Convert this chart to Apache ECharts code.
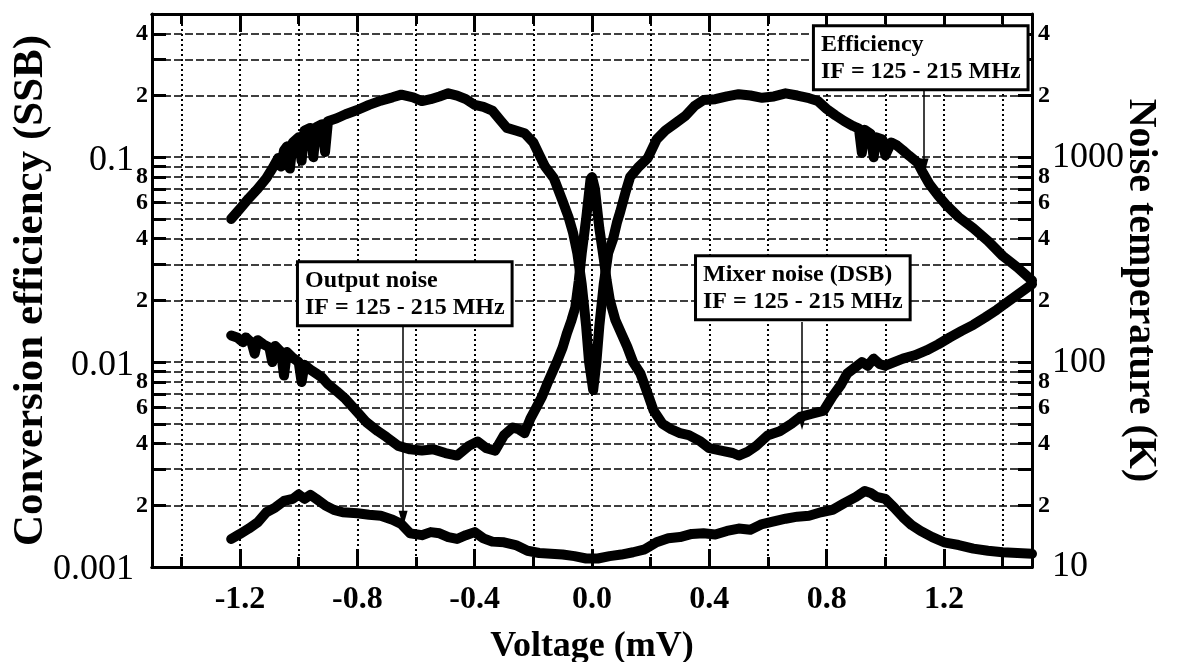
<!DOCTYPE html>
<html>
<head>
<meta charset="utf-8">
<script src="https://cdn.jsdelivr.net/npm/echarts@6/dist/echarts.min.js"></script>
<style>
  html, body { margin: 0; padding: 0; background: #fff; }
  #chart { width: 1178px; height: 662px; }
</style>
</head>
<body>
<div id="chart"></div>
<script>
// tick positions
const xLabelTicks = [-1.2, -0.8, -0.4, 0.0, 0.4, 0.8, 1.2];
const xMinorTicks = [-1.4, -1.0, -0.6, -0.2, 0.2, 0.6, 1.0, 1.4];
const effDecades = [-3, -2, -1];      // 0.001, 0.01, 0.1
const noiseDecades = [1, 2, 3];       // 10, 100, 1000 K
const tickMantissas = [1, 2, 3, 4, 5, 6, 7, 8, 9];
const labelMantissas = [1, 2, 4, 6, 8];

// [voltage (mV), conversion efficiency]
const efficiency = [
  [-1.23, 0.050], [-1.20, 0.056], [-1.17, 0.063], [-1.14, 0.070], [-1.11, 0.079],
  [-1.09, 0.088], [-1.07, 0.099], [-1.06, 0.090], [-1.05, 0.108], [-1.04, 0.113],
  [-1.03, 0.088], [-1.02, 0.118], [-1.00, 0.125], [-0.99, 0.096], [-0.98, 0.135],
  [-0.96, 0.139], [-0.95, 0.100], [-0.94, 0.140], [-0.92, 0.145], [-0.91, 0.106],
  [-0.90, 0.150], [-0.87, 0.155], [-0.84, 0.162], [-0.80, 0.170], [-0.76, 0.180],
  [-0.72, 0.189], [-0.68, 0.196], [-0.65, 0.202], [-0.61, 0.196], [-0.58, 0.188],
  [-0.55, 0.192], [-0.52, 0.198], [-0.49, 0.205], [-0.46, 0.200], [-0.43, 0.192],
  [-0.40, 0.180], [-0.37, 0.176], [-0.34, 0.169], [-0.31, 0.150], [-0.29, 0.139],
  [-0.26, 0.135], [-0.23, 0.131], [-0.20, 0.118], [-0.18, 0.103], [-0.16, 0.090],
  [-0.13, 0.079], [-0.10, 0.061], [-0.08, 0.051], [-0.065, 0.043], [-0.05, 0.034],
  [-0.035, 0.024], [-0.02, 0.015], [-0.01, 0.010], [0.004, 0.0073], [0.015, 0.010],
  [0.025, 0.015], [0.04, 0.024], [0.055, 0.034], [0.072, 0.040], [0.085, 0.048],
  [0.096, 0.054], [0.115, 0.068], [0.13, 0.080], [0.16, 0.090], [0.19, 0.099],
  [0.22, 0.122], [0.25, 0.135], [0.28, 0.145], [0.32, 0.160], [0.35, 0.178],
  [0.38, 0.190], [0.42, 0.192], [0.46, 0.198], [0.50, 0.203], [0.54, 0.200],
  [0.58, 0.195], [0.62, 0.198], [0.66, 0.205], [0.70, 0.200], [0.74, 0.194],
  [0.77, 0.188], [0.80, 0.172], [0.83, 0.160], [0.86, 0.150], [0.89, 0.142],
  [0.91, 0.138], [0.92, 0.105], [0.93, 0.136], [0.95, 0.130], [0.96, 0.100],
  [0.97, 0.125], [0.99, 0.122], [1.00, 0.102], [1.02, 0.118], [1.04, 0.114],
  [1.06, 0.108], [1.08, 0.102], [1.11, 0.094], [1.13, 0.083], [1.15, 0.074],
  [1.18, 0.065], [1.21, 0.058], [1.25, 0.051], [1.30, 0.045], [1.35, 0.039],
  [1.40, 0.033], [1.45, 0.029], [1.50, 0.025]
];

// [voltage (mV), mixer noise DSB (K)]
const mixerNoise = [
  [-1.23, 135], [-1.21, 132], [-1.19, 125], [-1.18, 132], [-1.16, 124],
  [-1.15, 110], [-1.14, 128], [-1.12, 122], [-1.10, 118], [-1.09, 100],
  [-1.08, 120], [-1.06, 112], [-1.05, 86], [-1.04, 112], [-1.02, 105],
  [-1.00, 100], [-0.99, 80], [-0.98, 97], [-0.96, 92], [-0.94, 88],
  [-0.92, 84], [-0.90, 78], [-0.87, 72], [-0.84, 66], [-0.80, 57],
  [-0.77, 51], [-0.73, 46], [-0.70, 43], [-0.66, 39], [-0.62, 37.5],
  [-0.58, 37], [-0.54, 37.5], [-0.50, 36], [-0.46, 35], [-0.42, 39],
  [-0.39, 41], [-0.36, 38], [-0.33, 37], [-0.30, 44], [-0.27, 48],
  [-0.25, 47], [-0.23, 45], [-0.21, 53], [-0.19, 60], [-0.17, 68],
  [-0.15, 80], [-0.12, 100], [-0.10, 118], [-0.085, 139], [-0.07, 160],
  [-0.057, 185], [-0.045, 250], [-0.035, 340], [-0.02, 500], [-0.005, 780],
  [0.0, 800], [0.01, 700], [0.025, 450], [0.04, 320], [0.05, 250],
  [0.061, 200], [0.08, 160], [0.10, 138], [0.12, 119], [0.14, 100],
  [0.165, 88], [0.19, 70], [0.21, 58], [0.24, 50], [0.27, 47],
  [0.30, 45], [0.33, 44], [0.37, 41], [0.40, 38], [0.44, 37],
  [0.48, 36], [0.50, 35], [0.53, 36.5], [0.56, 39], [0.60, 44],
  [0.64, 46], [0.68, 50], [0.71, 54], [0.75, 56], [0.79, 58],
  [0.82, 68], [0.85, 78], [0.87, 88], [0.90, 95], [0.92, 100],
  [0.94, 96], [0.96, 104], [0.98, 98], [1.00, 96], [1.03, 100],
  [1.06, 104], [1.10, 108], [1.14, 114], [1.18, 122], [1.22, 132],
  [1.26, 142], [1.30, 152], [1.34, 165], [1.38, 180], [1.42, 198],
  [1.46, 218], [1.50, 240]
];

// [voltage (mV), output noise (K)]
const outputNoise = [
  [-1.23, 13.7], [-1.20, 14.5], [-1.17, 15.4], [-1.14, 16.5], [-1.11, 18.5],
  [-1.08, 19.5], [-1.05, 21], [-1.02, 21.5], [-1.00, 22.6], [-0.98, 21.5],
  [-0.96, 22.5], [-0.94, 21.5], [-0.91, 20], [-0.88, 19], [-0.85, 18.5],
  [-0.80, 18.3], [-0.76, 18.0], [-0.72, 17.8], [-0.68, 17.0], [-0.65, 16.2],
  [-0.62, 14.6], [-0.58, 14.3], [-0.55, 14.8], [-0.52, 14.6], [-0.49, 14.0],
  [-0.46, 13.7], [-0.43, 14.3], [-0.40, 14.8], [-0.37, 13.8], [-0.34, 13.3],
  [-0.30, 13.2], [-0.26, 12.8], [-0.22, 12.0], [-0.18, 11.7], [-0.14, 11.6],
  [-0.10, 11.5], [-0.06, 11.3], [-0.02, 11.0], [0.02, 11.0], [0.06, 11.3],
  [0.10, 11.5], [0.14, 11.8], [0.18, 12.2], [0.22, 13.2], [0.26, 13.8],
  [0.30, 14.0], [0.34, 14.5], [0.38, 14.6], [0.42, 14.4], [0.46, 15.0],
  [0.50, 15.4], [0.54, 15.2], [0.58, 16.2], [0.62, 16.7], [0.66, 17.2],
  [0.70, 17.6], [0.74, 17.8], [0.78, 18.5], [0.82, 19.0], [0.86, 20.5],
  [0.90, 22.0], [0.93, 23.5], [0.95, 23.0], [0.97, 22.0], [1.00, 21.5],
  [1.03, 19.5], [1.06, 17.5], [1.09, 16.0], [1.12, 15.0], [1.16, 14.0],
  [1.20, 13.2], [1.25, 12.8], [1.30, 12.3], [1.35, 12.0], [1.40, 11.8],
  [1.45, 11.7], [1.50, 11.6]
];

// annotation boxes (top-left corner in voltage / efficiency units)
const notes = [
  { lines: ['Efficiency', 'IF = 125 - 215 MHz'], at: [0.76, 0.431] },
  { lines: ['Output noise', 'IF = 125 - 215 MHz'], at: [-0.999, 0.0304] },
  { lines: ['Mixer noise (DSB)', 'IF = 125 - 215 MHz'], at: [0.358, 0.0325] }
];
// arrows: [voltage, from, to]
const effArrow = [1.132, 0.214, 0.090];
const outArrow = [-0.644, 152, 17.2];
const mixArrow = [0.716, 157, 51];

const effMin = 0.001, effMax = 0.5;
const noiseMin = 10, noiseMax = 5000;

const FONT = '"Liberation Serif", "Times New Roman", serif';

const logTicks = (decades, mants) => {
  const out = [];
  decades.forEach(n => mants.forEach(k => out.push(n + Math.log10(k))));
  return out;
};

const logLabel = (v, isNoise) => {
  const n = Math.floor(v + 1e-6);
  const k = Math.round(Math.pow(10, v - n));
  if (k === 1) {
    const t = isNoise ? String(Math.pow(10, n)) : Math.pow(10, n).toFixed(-n);
    return '{big|' + t + '}';
  }
  return '{small|' + k + '}';
};

const chart = echarts.init(document.getElementById('chart'));

const axisLineStyle = { color: '#000', width: 3 };
const vGrid = { show: true, lineStyle: { color: '#000', width: 2, type: [2, 3] } };
const hGrid = { show: true, lineStyle: { color: '#000', width: 1.6, type: [8, 3] } };

const xBase = (pos, ticks, len, grid) => ({
  type: 'value', position: pos, min: -1.5, max: 1.5,
  axisLine: { show: true, onZero: false, lineStyle: axisLineStyle },
  axisTick: { show: true, inside: true, length: len, lineStyle: { color: '#000', width: 3 }, customValues: ticks },
  axisLabel: { show: false },
  splitLine: grid ? vGrid : { show: false }
});

const xBottom = xBase('bottom', xLabelTicks, 18, true);
xBottom.axisLabel = {
  show: true, customValues: xLabelTicks, margin: 17,
  formatter: v => v.toFixed(1),
  color: '#000', fontFamily: FONT, fontWeight: 'bold', fontSize: 32
};
xBottom.name = 'Voltage (mV)';
xBottom.nameLocation = 'middle';
xBottom.nameGap = 62;
xBottom.nameTextStyle = { color: '#000', fontFamily: FONT, fontWeight: 'bold', fontSize: 36 };

const lineStyle = { color: '#000', width: 10, join: 'round', cap: 'round' };
const arrowMark = a => ({
  silent: true, symbol: ['none', 'triangle'], symbolSize: [9, 16],
  label: { show: false }, lineStyle: { color: '#000', width: 1.5, type: 'solid' },
  data: [[{ coord: [a[0], a[1]] }, { coord: [a[0], a[2]] }]]
});

const option = {
  animation: false,
  backgroundColor: '#fff',
  grid: { left: 152, right: 146, top: 14, bottom: 95, containLabel: false, outerBoundsMode: 'none' },
  xAxis: [
    xBottom,
    xBase('bottom', xMinorTicks, 10, true),
    xBase('top', xLabelTicks, 18, false),
    xBase('top', xMinorTicks, 10, false)
  ],
  yAxis: [
    { type: 'log', logBase: 10, min: effMin, max: effMax, show: false },
    { type: 'log', logBase: 10, min: noiseMin, max: noiseMax, show: false },
    {
      type: 'value', position: 'left', min: Math.log10(effMin), max: Math.log10(effMax),
      name: 'Conversion efficiency (SSB)', nameLocation: 'middle', nameGap: 100, nameRotate: 90,
      nameMoveOverlap: false,
      nameTextStyle: { color: '#000', fontFamily: FONT, fontWeight: 'bold', fontSize: 43 },
      axisLine: { show: true, onZero: false, lineStyle: axisLineStyle },
      axisTick: { show: true, inside: true, length: 14, lineStyle: { color: '#000', width: 3 },
        customValues: logTicks(effDecades, tickMantissas) },
      axisLabel: {
        show: true, margin: 4, customValues: logTicks(effDecades, labelMantissas),
        formatter: v => logLabel(v, false),
        rich: {
          big: { fontFamily: FONT, fontSize: 36, color: '#000', padding: [6, 14, 0, 0] },
          small: { fontFamily: FONT, fontSize: 24, fontWeight: 'bold', color: '#000' }
        }
      },
      splitLine: hGrid
    },
    {
      type: 'value', position: 'right', min: Math.log10(noiseMin), max: Math.log10(noiseMax),
      name: 'Noise temperature (K)', nameLocation: 'middle', nameGap: 88, nameRotate: -90,
      nameMoveOverlap: false,
      nameTextStyle: { color: '#000', fontFamily: FONT, fontWeight: 'bold', fontSize: 40 },
      axisLine: { show: true, onZero: false, lineStyle: axisLineStyle },
      axisTick: { show: true, inside: true, length: 14, lineStyle: { color: '#000', width: 3 },
        customValues: logTicks(noiseDecades, tickMantissas) },
      axisLabel: {
        show: true, margin: 6, customValues: logTicks(noiseDecades, labelMantissas),
        formatter: v => logLabel(v, true),
        rich: {
          big: { fontFamily: FONT, fontSize: 36, color: '#000', padding: [0, 0, 0, 14] },
          small: { fontFamily: FONT, fontSize: 24, fontWeight: 'bold', color: '#000' }
        }
      },
      splitLine: { show: false }
    }
  ],
  series: [
    {
      name: 'Efficiency', type: 'line', xAxisIndex: 0, yAxisIndex: 0,
      data: efficiency, showSymbol: false, lineStyle: lineStyle,
      markLine: arrowMark(effArrow)
    },
    {
      name: 'Mixer noise (DSB)', type: 'line', xAxisIndex: 0, yAxisIndex: 1,
      data: mixerNoise, showSymbol: false, lineStyle: lineStyle,
      markLine: arrowMark(mixArrow)
    },
    {
      name: 'Output noise', type: 'line', xAxisIndex: 0, yAxisIndex: 1,
      data: outputNoise, showSymbol: false, lineStyle: lineStyle,
      markLine: arrowMark(outArrow)
    }
  ]
};

chart.setOption(option);

// annotation boxes placed through the axes
chart.setOption({
  graphic: notes.map(n => {
    const p = chart.convertToPixel({ xAxisIndex: 0, yAxisIndex: 0 }, n.at);
    return {
      type: 'text', x: p[0], y: p[1], z: 100,
      style: {
        text: n.lines.join('\n'),
        fontFamily: FONT, fontWeight: 'bold', fontSize: 24, lineHeight: 27,
        fill: '#000', backgroundColor: '#fff', borderColor: '#000', borderWidth: 3,
        padding: [4, 6, 3, 6], align: 'left', verticalAlign: 'top'
      }
    };
  })
});
</script>
</body>
</html>
